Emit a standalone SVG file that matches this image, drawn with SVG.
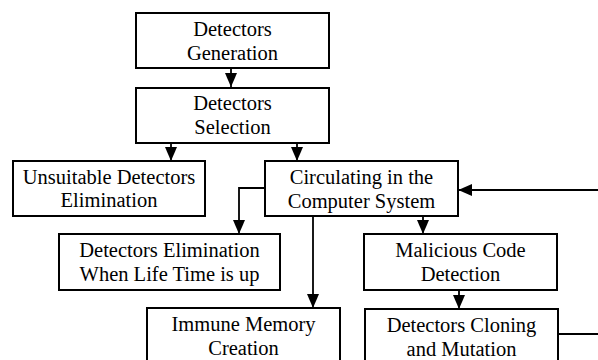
<svg xmlns="http://www.w3.org/2000/svg" width="598" height="360" viewBox="0 0 598 360">
<style>
.box{fill:#fff;stroke:#000;stroke-width:2}
text{fill:#000;text-anchor:middle}
.c{fill:none;stroke:#000;stroke-width:1.8}
</style>
<defs>
<marker id="ah" markerUnits="userSpaceOnUse" markerWidth="12" markerHeight="14" refX="14" refY="6" orient="auto">
<path d="M0,0 L14,6 L0,12 Z" fill="#000"/>
</marker>
</defs>
<rect width="598" height="360" fill="#fff"/>
<g id="connectors">
<line class="c" x1="231" y1="68" x2="231" y2="87" marker-end="url(#ah)"/>
<line class="c" x1="171" y1="143" x2="171" y2="161" marker-end="url(#ah)"/>
<line class="c" x1="297" y1="143" x2="297" y2="161" marker-end="url(#ah)"/>
<polyline class="c" points="265,188 239,188 239,234" marker-end="url(#ah)"/>
<line class="c" x1="313" y1="216" x2="313" y2="308" marker-end="url(#ah)"/>
<line class="c" x1="423" y1="216" x2="423" y2="234" marker-end="url(#ah)"/>
<line class="c" x1="459" y1="290" x2="459" y2="309" marker-end="url(#ah)"/>
<line class="c" x1="598" y1="190" x2="458" y2="190" marker-end="url(#ah)"/>
<line class="c" x1="558" y1="334" x2="598" y2="334"/>
</g>
<g font-family="'Liberation Serif', serif" font-size="20.5">
<g id="gen"><rect class="box" x="136" y="13" width="193" height="55"/><text x="232.5" y="36">Detectors</text><text x="232.5" y="60">Generation</text></g>
<g id="sel"><rect class="box" x="136" y="88" width="193" height="55"/><text x="232.5" y="110">Detectors</text><text x="232.5" y="134">Selection</text></g>
<g id="unsuit"><rect class="box" x="13" y="161" width="192" height="55"/><text x="109" y="184">Unsuitable Detectors</text><text x="109" y="207">Elimination</text></g>
<g id="circ"><rect class="box" x="265" y="161" width="193" height="55"/><text x="361.5" y="184">Circulating in the</text><text x="361.5" y="208">Computer System</text></g>
<g id="elim"><rect class="box" x="59" y="234" width="221" height="56"/><text x="169.5" y="257">Detectors Elimination</text><text x="169.5" y="281">When Life Time is up</text></g>
<g id="mal"><rect class="box" x="364" y="234" width="193" height="56"/><text x="460.5" y="257">Malicious Code</text><text x="460.5" y="281">Detection</text></g>
<g id="imm"><rect class="box" x="147" y="308" width="193" height="60"/><text x="243.5" y="331">Immune Memory</text><text x="243.5" y="355">Creation</text></g>
<g id="clone"><rect class="box" x="365" y="309" width="193" height="60"/><text x="461.5" y="332">Detectors Cloning</text><text x="461.5" y="356">and Mutation</text></g>
</g>
</svg>
